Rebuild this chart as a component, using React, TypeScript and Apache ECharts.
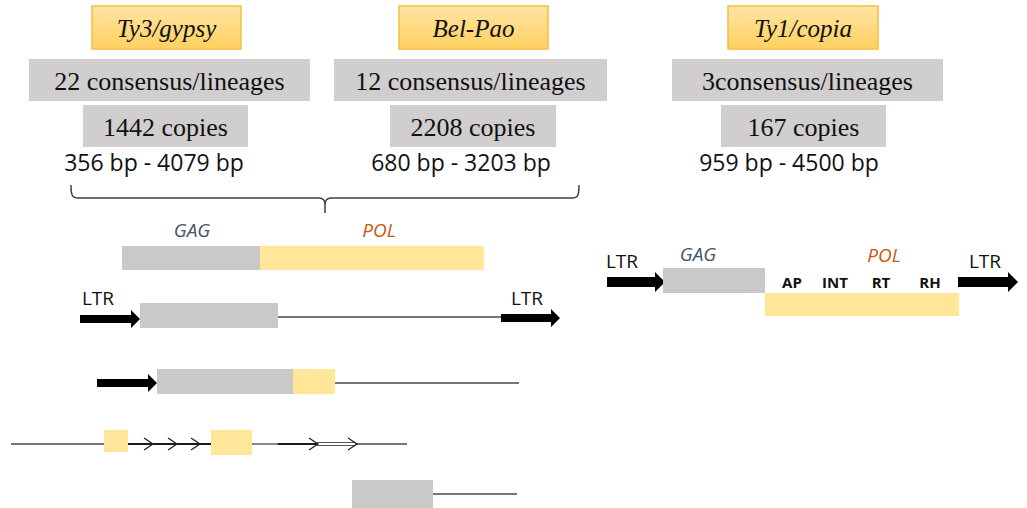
import React, { useEffect, useRef } from "react";
import * as echarts from "echarts";

// ---- data ----
const families = ["Ty3/gypsy", "Bel-Pao", "Ty1/copia"];
const consensusLabels = ["22 consensus/lineages", "12 consensus/lineages", "3consensus/lineages"];
const copyCounts = [1442, 2208, 167];
const minLengths = [356, 680, 959];
const maxLengths = [4079, 3203, 4500];
const geneLabels = ["GAG", "POL"];
const ltrLabel = "LTR";
const polDomains = ["AP", "INT", "RT", "RH"];

// ---- layout ----
const HEADER = [[92, 241], [399, 548], [728, 878]];
const CONS = [[29, 310], [334, 607], [672, 943]];
const COPY = [[83, 248], [390, 556], [721, 886]];
const BP_CX = [154, 461, 789];
const DOMAIN_CX = [792, 835, 881, 930];

const GENE_GRAY = "#C9C9C9";
const GENE_YEL = "#FFE699";
const BOX_GRAY = "#D0CECE";
const LINE = "#4a4a4a";
const SANS = "'Open Sans', 'Noto Sans', sans-serif";
const SERIF = "'Liberation Serif', 'DejaVu Serif', serif";

function arrowPts(x0: number, x1: number, cy: number, body: number, head: number, headL: number) {
  return [
    [x0, cy - body / 2],
    [x1 - headL, cy - body / 2],
    [x1 - headL, cy - head / 2],
    [x1, cy],
    [x1 - headL, cy + head / 2],
    [x1 - headL, cy + body / 2],
    [x0, cy + body / 2],
  ];
}

function rect(x0: number, x1: number, y0: number, y1: number, fill: any, extra: any = {}) {
  return { type: "rect", shape: { x: x0, y: y0, width: x1 - x0, height: y1 - y0 }, style: { fill, ...extra } };
}
function line(x1: number, y1: number, x2: number, y2: number, stroke = LINE, lineWidth = 1.3) {
  return { type: "line", shape: { x1, y1, x2, y2 }, style: { stroke, lineWidth } };
}
function text(t: string, x: number, y: number, fontSize: number, fontFamily: string, extra: any = {}) {
  return {
    type: "text",
    x,
    y,
    style: {
      text: t,
      fontSize,
      fontFamily,
      fill: "#111",
      textAlign: "center",
      textVerticalAlign: "middle",
      verticalAlign: "middle",
      ...extra,
    },
  };
}
function chevron(tx: number, cy: number, stroke = "#222") {
  return {
    type: "polyline",
    shape: { points: [[tx - 9, cy - 6], [tx, cy], [tx - 9, cy + 6]] },
    style: { stroke, lineWidth: 1.3, fill: "none" },
  };
}

export default function App() {
  const ref = useRef<HTMLDivElement>(null);
  useEffect(() => {
    if (!ref.current) return;
    echarts.graphic.registerShape(
      "brace",
      echarts.graphic.extendPath(
        "M71,185 C71,195 72,198 78,198 L319,198 C323,198 325,200 325,205 L325,213 M325,205 C325,200 327,198 331,198 L572,198 C578,198 579,195 579,185",
        {}
      )
    );
    const chart = echarts.init(ref.current, undefined, { renderer: "svg" });
    const g: any[] = [];

    // header blocks
    families.forEach((f, i) => {
      const [hx0, hx1] = HEADER[i];
      g.push(
        rect(hx0, hx1, 6, 49, {
          type: "linear", x: 0, y: 0, x2: 0, y2: 1,
          colorStops: [{ offset: 0, color: "#FFE5A3" }, { offset: 1, color: "#FFD060" }],
        }, { stroke: "#F5C040", lineWidth: 1.5 })
      );
      g.push(text(f, (hx0 + hx1) / 2, 28, 25, SERIF, { fontStyle: "italic" }));
      const [cx0, cx1] = CONS[i];
      g.push(rect(cx0, cx1, 59, 101, BOX_GRAY));
      g.push(text(consensusLabels[i], (cx0 + cx1) / 2, 81, 26, SERIF));
      const [px0, px1] = COPY[i];
      g.push(rect(px0, px1, 105, 147, BOX_GRAY));
      g.push(text(`${copyCounts[i]} copies`, (px0 + px1) / 2, 127, 26, SERIF));
      g.push(text(`${minLengths[i]} bp - ${maxLengths[i]} bp`, BP_CX[i], 162, 23, SANS));
    });

    // brace
    g.push({ type: "brace", x: 0, y: 0, scaleX: 1, scaleY: 1, style: { stroke: "#404040", lineWidth: 1.5, fill: "none" } });

    // gene structure (Ty3/gypsy, Bel-Pao)
    g.push(text(geneLabels[0], 192, 230, 19, SANS, { fontStyle: "italic", fill: "#44546A" }));
    g.push(text(geneLabels[1], 379, 230, 19, SANS, { fontStyle: "italic", fill: "#C55A11" }));
    g.push(rect(122, 260, 246, 270, GENE_GRAY));
    g.push(rect(260, 484, 246, 270, GENE_YEL));

    // row 2
    g.push(line(278, 317, 501, 317));
    g.push({ type: "polygon", shape: { points: arrowPts(80, 140, 319, 8, 18, 9) }, style: { fill: "#000" } });
    g.push({ type: "polygon", shape: { points: arrowPts(501, 560, 318, 8, 18, 9) }, style: { fill: "#000" } });
    g.push(rect(140, 278, 303, 328, GENE_GRAY));
    g.push(text(ltrLabel, 98, 298, 19, SANS));
    g.push(text(ltrLabel, 527, 298, 19, SANS));

    // row 3
    g.push(line(335, 383, 519, 383));
    g.push({ type: "polygon", shape: { points: arrowPts(97, 157, 383, 8, 18, 9) }, style: { fill: "#000" } });
    g.push(rect(157, 293, 369, 394, GENE_GRAY));
    g.push(rect(293, 335, 369, 394, GENE_YEL));

    // row 4
    g.push(line(11, 444, 104, 444));
    g.push(line(128, 444, 211, 444, "#1a1a1a", 1.8));
    g.push(line(252, 444, 278, 444));
    g.push(line(278, 444, 317, 444, "#1a1a1a", 2.2));
    g.push(line(317, 442.5, 355, 442.5, "#555", 1.1));
    g.push(line(317, 445.5, 355, 445.5, "#555", 1.1));
    g.push(line(355, 444, 407, 444));
    g.push(chevron(153, 444));
    g.push(chevron(177, 444));
    g.push(chevron(200, 444));
    g.push(chevron(318, 444));
    g.push(chevron(357, 444));
    g.push(rect(104, 128, 430, 452, GENE_YEL));
    g.push(rect(211, 252, 430, 455, GENE_YEL));

    // row 5
    g.push(line(433, 494, 517, 494));
    g.push(rect(352, 433, 480, 510, GENE_GRAY));

    // Ty1/copia structure
    g.push({ type: "polygon", shape: { points: arrowPts(607, 665, 282, 10, 20, 10) }, style: { fill: "#000" } });
    g.push({ type: "polygon", shape: { points: arrowPts(958, 1018, 282, 10, 20, 10) }, style: { fill: "#000" } });
    g.push(rect(663, 765, 268, 293, GENE_GRAY));
    g.push(rect(765, 959, 293, 316, GENE_YEL));
    g.push(text(ltrLabel, 622, 261, 19, SANS));
    g.push(text(ltrLabel, 985, 261, 19, SANS));
    g.push(text(geneLabels[0], 698, 254, 19, SANS, { fontStyle: "italic", fill: "#44546A" }));
    g.push(text(geneLabels[1], 884, 255, 19, SANS, { fontStyle: "italic", fill: "#C55A11" }));
    polDomains.forEach((d, i) => {
      g.push(text(d, DOMAIN_CX[i], 282, 15, SANS, { fontWeight: "bold" }));
    });

    chart.setOption({ animation: false, graphic: { elements: g } });
    return () => chart.dispose();
  }, []);

  return (
    <div
      ref={ref}
      style={{ position: "fixed", left: 0, top: 0, width: 1027, height: 508, background: "#fff" }}
    />
  );
}
